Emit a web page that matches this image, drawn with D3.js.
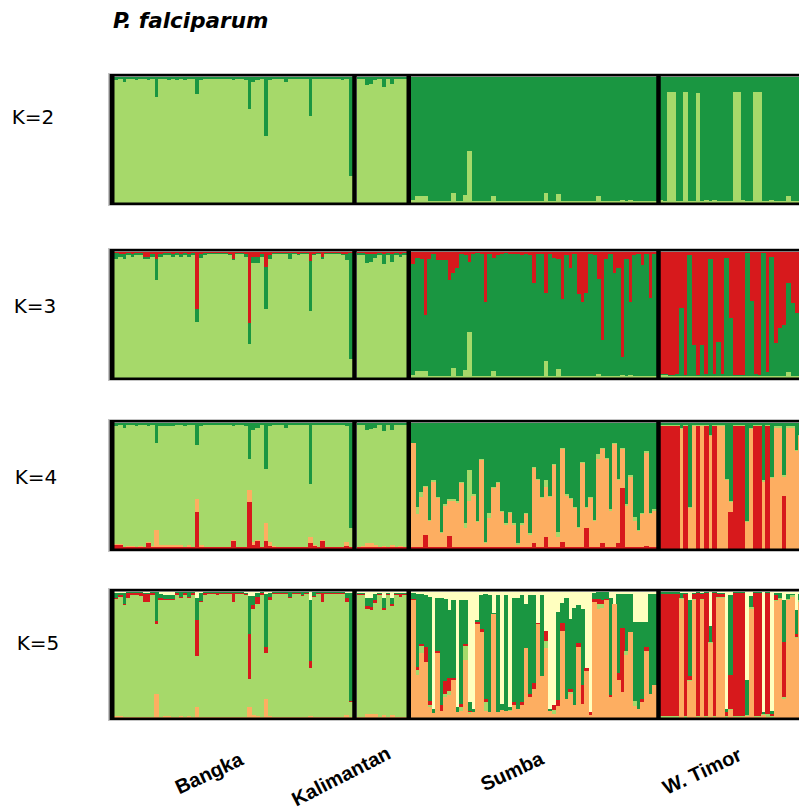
<!DOCTYPE html>
<html>
<head>
<meta charset="utf-8">
<script src="https://cdn.jsdelivr.net/npm/d3@7"></script>
<style>
  body { margin: 0; background: #fff; }
</style>
</head>
<body>
<script>
// populations and K values
const populations = ["Bangka", "Kalimantan", "Sumba", "W. Timor"];
const kValues = [2, 3, 4, 5];

// ---- Bangka (59 isolates) ----
const bangkaK2Dg = [0.03,0.02,0.04,0.02,0.02,0.03,0.02,0.02,0.03,0.02,
  0.16,0.02,0.02,0.03,0.02,0.03,0.02,0.03,0.02,0.02,
  0.14,0.03,0.02,0.02,0.02,0.02,0.02,0.02,0.02,0.03,
  0.02,0.02,0.03,0.255,0.04,0.03,0.02,0.47,0.03,0.02,
  0.02,0.02,0.045,0.02,0.02,0.02,0.02,0.02,0.31,0.02,
  0.02,0.02,0.02,0.02,0.02,0.02,0.03,0.02,0.79];
const bangkaK3Red = [0.01,0.02,0.02,0.01,0.02,0.01,0.01,0.04,0.04,0.02,
  0.06,0.02,0.01,0.01,0.02,0.01,0.02,0.01,0.02,0.01,
  0.46,0.02,0.01,0.01,0.01,0.01,0.01,0.01,0.02,0.06,
  0.01,0.01,0.02,0.566,0.04,0.04,0.02,0.12,0.03,0.01,
  0.01,0.01,0.01,0.01,0.01,0.02,0.01,0.01,0.075,0.02,
  0.01,0.04,0.01,0.01,0.01,0.01,0.02,0.02,0.01];
const bangkaK3Dg = [0.05,0.02,0.04,0.02,0.02,0.02,0.02,0.02,0.02,0.02,
  0.17,0.02,0.02,0.02,0.02,0.02,0.02,0.02,0.02,0.02,
  0.10,0.03,0.02,0.01,0.01,0.01,0.01,0.01,0.01,0.01,
  0.01,0.01,0.02,0.166,0.05,0.05,0.02,0.335,0.03,0.01,
  0.01,0.01,0.01,0.05,0.01,0.01,0.01,0.01,0.40,0.01,
  0.01,0.02,0.01,0.01,0.01,0.01,0.01,0.05,0.84];
const bangkaK4Dg = [0.03,0.02,0.04,0.02,0.02,0.03,0.02,0.02,0.03,0.02,
  0.16,0.03,0.03,0.03,0.03,0.02,0.02,0.03,0.02,0.02,
  0.175,0.03,0.02,0.02,0.02,0.02,0.02,0.02,0.02,0.03,
  0.02,0.02,0.03,0.29,0.06,0.04,0.02,0.37,0.03,0.02,
  0.02,0.02,0.04,0.02,0.02,0.02,0.02,0.02,0.485,0.02,
  0.02,0.02,0.02,0.02,0.02,0.02,0.02,0.03,0.84];
const bangkaK4Or = [0.01,0.01,0.005,0.01,0.005,0.005,0.01,0.005,0.015,0.01,
  0.14,0.01,0.015,0.015,0.015,0.015,0.01,0.005,0.01,0.005,
  0.10,0.01,0.005,0.005,0.005,0.005,0.005,0.005,0.005,0.01,
  0.005,0.005,0.005,0.094,0.02,0.01,0.005,0.145,0.03,0.01,
  0.005,0.005,0.005,0.005,0.005,0.005,0.005,0.005,0.05,0.005,
  0.005,0.01,0.005,0.005,0.005,0.005,0.005,0.03,0.005];
const bangkaK4Red = [0.027,0.027,0.01,0.01,0.015,0.01,0.01,0.01,0.04,0.01,
  0.01,0.015,0.01,0.01,0.01,0.01,0.015,0.01,0.015,0.01,
  0.29,0.015,0.01,0.01,0.01,0.01,0.01,0.01,0.01,0.06,
  0.01,0.01,0.01,0.37,0.03,0.06,0.01,0.056,0.02,0.01,
  0.01,0.01,0.01,0.01,0.01,0.01,0.01,0.01,0.04,0.02,
  0.01,0.06,0.01,0.01,0.01,0.01,0.01,0.02,0.01];
const bangkaK5Pale = [0.01,0.01,0.01,0.005,0.005,0.005,0.005,0.01,0.01,0.005,
  0.005,0.02,0.03,0.03,0.03,0.005,0.005,0.005,0.005,0.005,
  0.05,0.01,0.005,0.005,0.005,0.005,0.005,0.005,0.005,0.005,
  0.005,0.005,0.01,0.035,0.035,0.01,0.005,0.02,0.01,0.005,
  0.005,0.005,0.005,0.005,0.005,0.005,0.005,0.005,0.065,0.005,
  0.005,0.005,0.005,0.005,0.005,0.005,0.005,0.01,0.01];
const bangkaK5Dg = [0.04,0.02,0.09,0.01,0.01,0.01,0.01,0.01,0.01,0.01,
  0.23,0.03,0.03,0.03,0.03,0.01,0.04,0.01,0.04,0.01,
  0.18,0.065,0.01,0.01,0.01,0.01,0.01,0.01,0.01,0.01,
  0.01,0.01,0.01,0.30,0.075,0.03,0.01,0.42,0.03,0.01,
  0.01,0.01,0.01,0.04,0.01,0.01,0.02,0.01,0.49,0.03,
  0.01,0.01,0.01,0.01,0.01,0.01,0.01,0.04,0.86];
const bangkaK5Red = [0.01,0.01,0.01,0.04,0.01,0.01,0.02,0.06,0.06,0.01,
  0.02,0.02,0.01,0.01,0.01,0.01,0.01,0.01,0.01,0.01,
  0.28,0.01,0.01,0.005,0.005,0.01,0.005,0.005,0.005,0.07,
  0.005,0.005,0.01,0.36,0.03,0.06,0.01,0.05,0.03,0.005,
  0.005,0.005,0.005,0.01,0.005,0.005,0.01,0.005,0.055,0.01,
  0.005,0.07,0.005,0.005,0.005,0.005,0.005,0.03,0.005];
const bangkaK5Or = [0.01,0.01,0.005,0.005,0.005,0.005,0.005,0.005,0.005,0.005,
  0.19,0.005,0.01,0.01,0.005,0.005,0.015,0.005,0.015,0.005,
  0.08,0.005,0.005,0.005,0.005,0.005,0.005,0.005,0.005,0.005,
  0.005,0.005,0.005,0.085,0.02,0.01,0.005,0.15,0.01,0.005,
  0.005,0.005,0.005,0.005,0.005,0.005,0.005,0.005,0.015,0.005,
  0.005,0.005,0.005,0.005,0.005,0.005,0.005,0.02,0.005];

// ---- Kalimantan (12) ----
const kaliK2Dg = [0.02,0.02,0.07,0.06,0.03,0.02,0.08,0.02,0.06,0.02,0.02,0.02];
const kaliK3Red = [0.01,0.01,0.02,0.02,0.02,0.01,0.02,0.01,0.02,0.01,0.02,0.01];
const kaliK3Dg = [0.02,0.02,0.07,0.06,0.03,0.02,0.08,0.02,0.06,0.02,0.02,0.02];
const kaliK4Dg = [0.02,0.02,0.06,0.05,0.04,0.02,0.07,0.02,0.06,0.02,0.02,0.02];
const kaliK4Or = [0.005,0.01,0.03,0.03,0.02,0.005,0.01,0.005,0.02,0.005,0.01,0.005];
const kaliK4Red = [0.01,0.01,0.01,0.01,0.01,0.01,0.01,0.01,0.01,0.01,0.01,0.01];
const kaliK5Pale = [0.01,0.01,0.055,0.055,0.02,0.01,0.05,0.01,0.055,0.01,0.01,0.01];
const kaliK5Dg = [0.01,0.01,0.06,0.07,0.05,0.01,0.08,0.01,0.045,0.01,0.01,0.01];
const kaliK5Red = [0.005,0.005,0.02,0.02,0.02,0.005,0.015,0.005,0.015,0.005,0.02,0.005];
const kaliK5Or = [0.005,0.005,0.03,0.03,0.03,0.005,0.02,0.005,0.02,0.005,0.005,0.005];

// ---- Sumba (61) ----
const sumbaK2Lg = [0.02,0.05,0.05,0.05,0.01,0.01,0.015,0.015,0.01,0.01,
  0.075,0.01,0.01,0.06,0.41,0.01,0.01,0.015,0.01,0.01,
  0.05,0.015,0.01,0.01,0.01,0.015,0.01,0.01,0.015,0.015,
  0.01,0.01,0.01,0.075,0.01,0.01,0.07,0.015,0.015,0.01,
  0.015,0.01,0.01,0.01,0.01,0.01,0.05,0.015,0.01,0.015,
  0.01,0.015,0.02,0.015,0.02,0.01,0.01,0.01,0.01,0.01,0.01];
const sumbaK3Red = [0.10,0.05,0.06,0.50,0.06,0.02,0.065,0.07,0.07,0.23,
  0.17,0.13,0.02,0.03,0.08,0.02,0.01,0.02,0.40,0.02,
  0.05,0.03,0.02,0.01,0.02,0.02,0.02,0.03,0.02,0.03,
  0.25,0.02,0.02,0.33,0.02,0.05,0.06,0.38,0.03,0.13,
  0.02,0.34,0.40,0.33,0.02,0.03,0.22,0.70,0.06,0.02,
  0.17,0.13,0.84,0.06,0.40,0.03,0.02,0.11,0.02,0.37,0.02];
const sumbaK3Lg = [0.02,0.05,0.05,0.05,0.01,0.01,0.015,0.015,0.01,0.01,
  0.075,0.01,0.01,0.06,0.36,0.01,0.01,0.015,0.01,0.01,
  0.05,0.015,0.01,0.01,0.01,0.015,0.01,0.01,0.015,0.015,
  0.01,0.01,0.01,0.13,0.01,0.01,0.07,0.015,0.015,0.01,
  0.015,0.01,0.01,0.01,0.01,0.01,0.03,0.015,0.01,0.015,
  0.01,0.015,0.02,0.015,0.02,0.01,0.01,0.01,0.01,0.01,0.01];
const sumbaK4Dg = [0.16,0.67,0.55,0.50,0.77,0.46,0.59,0.87,0.65,0.61,
  0.61,0.62,0.47,0.80,0.38,0.57,0.78,0.29,0.95,0.72,
  0.51,0.47,0.70,0.80,0.71,0.80,0.96,0.80,0.72,0.88,
  0.35,0.45,0.59,0.46,0.58,0.33,0.87,0.20,0.57,0.60,
  0.67,0.83,0.31,0.67,0.59,0.77,0.25,0.20,0.28,0.69,
  0.16,0.45,0.20,0.65,0.42,0.75,0.85,0.72,0.23,0.72,0.69];
const sumbaK4Lg = [0.00,0.06,0.04,0.01,0.01,0.01,0.01,0.01,0.01,0.01,
  0.01,0.02,0.01,0.04,0.24,0.01,0.01,0.01,0.01,0.04,
  0.01,0.01,0.01,0.01,0.01,0.01,0.01,0.01,0.01,0.01,
  0.01,0.01,0.01,0.05,0.01,0.01,0.04,0.01,0.01,0.01,
  0.01,0.01,0.01,0.01,0.01,0.01,0.04,0.01,0.01,0.01,
  0.01,0.01,0.01,0.01,0.01,0.03,0.01,0.01,0.01,0.01,0.01];
const sumbaK4Red = [0.01,0.015,0.015,0.11,0.015,0.015,0.015,0.015,0.015,0.10,
  0.015,0.015,0.015,0.015,0.015,0.015,0.015,0.015,0.015,0.015,
  0.015,0.015,0.015,0.015,0.015,0.015,0.015,0.015,0.015,0.015,
  0.04,0.015,0.015,0.09,0.015,0.015,0.015,0.05,0.015,0.015,
  0.015,0.015,0.015,0.16,0.015,0.015,0.015,0.04,0.015,0.015,
  0.015,0.04,0.48,0.015,0.015,0.015,0.015,0.015,0.02,0.015,0.015];
const sumbaK5Pale = [0.01,0.02,0.02,0.03,0.04,0.93,0.05,0.05,0.06,0.15,
  0.07,0.92,0.07,0.07,0.88,0.93,0.23,0.03,0.02,0.03,
  0.17,0.03,0.89,0.03,0.92,0.05,0.05,0.03,0.10,0.03,
  0.03,0.25,0.03,0.31,0.93,0.90,0.16,0.09,0.05,0.22,
  0.13,0.11,0.14,0.61,0.96,0.01,0.00,0.00,0.00,0.05,
  0.10,0.02,0.02,0.02,0.02,0.24,0.24,0.24,0.24,0.02,0.02];
const sumbaK5Dg = [0.05,0.58,0.40,0.41,0.83,0.035,0.42,0.85,0.65,0.54,
  0.62,0.04,0.82,0.35,0.07,0.03,0.01,0.27,0.83,0.93,
  0.01,0.93,0.05,0.92,0.02,0.83,0.88,0.85,0.35,0.78,
  0.70,0.00,0.64,0.00,0.02,0.00,0.70,0.16,0.80,0.55,
  0.77,0.30,0.60,0.00,0.00,0.05,0.06,0.07,0.06,0.77,
  0.00,0.63,0.27,0.45,0.30,0.63,0.69,0.61,0.20,0.79,0.72];
const sumbaK5Red = [0.01,0.02,0.015,0.12,0.03,0.00,0.02,0.05,0.10,0.10,
  0.01,0.00,0.03,0.01,0.01,0.00,0.02,0.02,0.03,0.00,
  0.00,0.00,0.00,0.00,0.00,0.02,0.00,0.02,0.00,0.03,
  0.04,0.01,0.00,0.08,0.00,0.04,0.05,0.06,0.00,0.03,
  0.00,0.03,0.15,0.02,0.02,0.02,0.04,0.03,0.01,0.02,
  0.00,0.05,0.51,0.00,0.00,0.00,0.00,0.03,0.03,0.00,0.00];
const sumbaK5Lg = [0.00,0.045,0.05,0.00,0.02,0.00,0.00,0.00,0.03,0.03,
  0.00,0.00,0.03,0.11,0.01,0.00,0.00,0.00,0.07,0.00,
  0.00,0.00,0.00,0.00,0.01,0.00,0.00,0.00,0.00,0.00,
  0.00,0.00,0.00,0.06,0.00,0.03,0.00,0.00,0.00,0.01,
  0.00,0.00,0.00,0.00,0.00,0.00,0.04,0.03,0.00,0.00,
  0.00,0.00,0.00,0.03,0.00,0.04,0.00,0.00,0.00,0.00,0.00];

// ---- W. Timor (35 visible) ----
const wtK2Lg = [0.02,0.01,0.875,0.875,0.01,0.01,0.88,0.01,0.01,0.87,
  0.01,0.02,0.01,0.02,0.01,0.01,0.01,0.01,0.875,0.875,
  0.02,0.01,0.01,0.88,0.88,0.01,0.01,0.02,0.01,0.01,
  0.01,0.055,0.01,0.01,0.01];
const wtK3Red = [0.97,0.97,0.98,0.98,0.97,0.45,0.98,0.03,0.745,0.98,
  0.745,0.97,0.06,0.97,0.72,0.97,0.05,0.53,0.98,0.98,
  0.98,0.01,0.39,0.97,0.98,0.01,0.96,0.04,0.73,0.61,
  0.58,0.25,0.41,0.49,0.50];
const wtK3Lg = [0.02,0.02,0.01,0.01,0.01,0.01,0.01,0.01,0.01,0.01,
  0.01,0.01,0.01,0.01,0.01,0.01,0.01,0.01,0.01,0.01,
  0.01,0.01,0.01,0.01,0.01,0.01,0.01,0.01,0.01,0.01,
  0.01,0.04,0.01,0.01,0.01];
const wtK4Dg = [0.02,0.02,0.02,0.02,0.02,0.045,0.02,0.67,0.02,0.02,
  0.02,0.02,0.10,0.02,0.02,0.02,0.45,0.62,0.02,0.02,
  0.02,0.78,0.045,0.02,0.02,0.46,0.02,0.43,0.03,0.03,
  0.42,0.03,0.03,0.22,0.10];
const wtK4Red = [0.97,0.97,0.97,0.97,0.97,0.00,0.97,0.00,0.00,0.97,
  0.00,0.97,0.00,0.97,0.00,0.00,0.00,0.29,0.97,0.97,
  0.97,0.00,0.00,0.97,0.97,0.00,0.97,0.00,0.00,0.00,
  0.42,0.00,0.00,0.00,0.00];
const wtK4Lg = [0.01,0.01,0.01,0.01,0.01,0.01,0.01,0.01,0.01,0.01,
  0.01,0.01,0.01,0.01,0.01,0.01,0.01,0.01,0.01,0.01,
  0.01,0.01,0.01,0.01,0.01,0.01,0.01,0.01,0.01,0.01,
  0.01,0.01,0.01,0.01,0.01];
const wtK5Pale = [0.005,0.005,0.005,0.005,0.005,0.01,0.01,0.07,0.01,0.005,
  0.01,0.005,0.27,0.005,0.01,0.01,0.93,0.03,0.005,0.005,
  0.005,0.70,0.035,0.005,0.005,0.96,0.005,0.95,0.015,0.01,
  0.07,0.02,0.02,0.15,0.02];
const wtK5Dg = [0.015,0.015,0.015,0.015,0.015,0.04,0.01,0.60,0.01,0.01,
  0.01,0.01,0.13,0.01,0.01,0.01,0.03,0.63,0.01,0.01,
  0.01,0.28,0.09,0.01,0.01,0.01,0.01,0.02,0.01,0.04,
  0.33,0.04,0.01,0.19,0.05];
const wtK5Red = [0.97,0.97,0.97,0.97,0.97,0.00,0.97,0.03,0.04,0.97,
  0.04,0.97,0.00,0.97,0.02,0.02,0.03,0.27,0.97,0.97,
  0.97,0.00,0.00,0.97,0.97,0.00,0.96,0.02,0.04,0.00,
  0.44,0.00,0.00,0.02,0.00];
const wtK5Lg = [0.01,0.01,0.01,0.01,0.01,0.01,0.01,0.01,0.01,0.01,
  0.01,0.01,0.01,0.01,0.01,0.01,0.01,0.01,0.01,0.01,
  0.01,0.01,0.01,0.01,0.01,0.01,0.02,0.01,0.01,0.01,
  0.015,0.01,0.01,0.01,0.01];

// which arrays belong to which K / population; the missing cluster is the remainder
const sources = {
  2: [{dg: bangkaK2Dg}, {dg: kaliK2Dg}, {lg: sumbaK2Lg}, {lg: wtK2Lg}],
  3: [{red: bangkaK3Red, dg: bangkaK3Dg}, {red: kaliK3Red, dg: kaliK3Dg},
      {red: sumbaK3Red, lg: sumbaK3Lg}, {red: wtK3Red, lg: wtK3Lg}],
  4: [{dg: bangkaK4Dg, or: bangkaK4Or, red: bangkaK4Red}, {dg: kaliK4Dg, or: kaliK4Or, red: kaliK4Red},
      {dg: sumbaK4Dg, lg: sumbaK4Lg, red: sumbaK4Red}, {dg: wtK4Dg, lg: wtK4Lg, red: wtK4Red}],
  5: [{pale: bangkaK5Pale, dg: bangkaK5Dg, red: bangkaK5Red, or: bangkaK5Or},
      {pale: kaliK5Pale, dg: kaliK5Dg, red: kaliK5Red, or: kaliK5Or},
      {pale: sumbaK5Pale, dg: sumbaK5Dg, red: sumbaK5Red, lg: sumbaK5Lg},
      {pale: wtK5Pale, dg: wtK5Dg, red: wtK5Red, lg: wtK5Lg}]
};

// cluster order from top to bottom of each bar
const stackOrder = {
  2: ["dg", "lg"],
  3: ["red", "dg", "lg"],
  4: ["dg", "lg", "or", "red"],
  5: ["pale", "dg", "red", "lg", "or"]
};

const color = d3.scaleOrdinal()
  .domain(["pale", "lg", "dg", "red", "or"])
  .range(["#ffffbf", "#a6d96a", "#1a9641", "#d7191c", "#fdae61"]);

const width = 799, height = 811;
const rowTops = [74, 249, 420, 589];
const popRanges = [[114, 352.5], [356.5, 406.5], [411, 656.5], [658.7, 658.7 + 35 * 4.1]];
const sepX = [354.5, 408.75, 658.5];

const svg = d3.select("body").append("svg")
  .attr("width", width)
  .attr("height", height);

svg.append("text")
  .attr("x", 113)
  .attr("y", 28)
  .attr("font-family", "DejaVu Sans")
  .attr("font-weight", "bold")
  .attr("font-style", "italic")
  .attr("font-size", 21.5)
  .text("P. falciparum");

const kLabelX = [33, 35, 36, 38];
const kLabelY = [124, 313, 484, 650];

kValues.forEach((k, r) => {
  const top = rowTops[r];
  const y = d3.scaleLinear().domain([0, 1]).range([top + 2.5, top + 128.5]);
  const keys = stackOrder[k];
  const g = svg.append("g").attr("shape-rendering", "crispEdges");

  populations.forEach((pop, p) => {
    const src = sources[k][p];
    const n = Object.values(src)[0].length;
    const rows = d3.range(n).map(i => {
      const row = {};
      let sum = 0;
      keys.forEach(key => {
        if (src[key]) { row[key] = src[key][i]; sum += src[key][i]; }
      });
      keys.forEach(key => {
        if (!src[key]) row[key] = Math.max(0, 1 - sum);
      });
      return row;
    });

    const x = d3.scaleBand()
      .domain(d3.range(n))
      .range(popRanges[p]);

    const series = d3.stack().keys(keys)(rows);

    g.selectAll(null)
      .data(series)
      .enter()
      .append("g")
      .attr("fill", d => color(d.key))
      .selectAll("rect")
      .data(d => d.map((v, i) => ({v, i})))
      .enter()
      .append("rect")
      .attr("x", d => x(d.i))
      .attr("width", x.bandwidth() + 0.6)
      .attr("y", d => y(d.v[0]))
      .attr("height", d => Math.max(0, y(d.v[1]) - y(d.v[0])));
  });

  // frame
  svg.append("rect")
    .attr("x", 108.5).attr("y", top - 0.5)
    .attr("width", 800).attr("height", 132)
    .attr("fill", "none").attr("stroke", "#c4c4c4").attr("stroke-width", 1);
  svg.append("rect")
    .attr("x", 111.25).attr("y", top + 1.25)
    .attr("width", 800).attr("height", 128.5)
    .attr("fill", "none").attr("stroke", "#000").attr("stroke-width", 2.5);
  svg.append("line")
    .attr("x1", 112).attr("x2", 112)
    .attr("y1", top).attr("y2", top + 131)
    .attr("stroke", "#000").attr("stroke-width", 5);
  sepX.forEach(sx => {
    svg.append("line")
      .attr("x1", sx).attr("x2", sx)
      .attr("y1", top).attr("y2", top + 131)
      .attr("stroke", "#000").attr("stroke-width", 4.5);
  });

  svg.append("text")
    .attr("x", kLabelX[r])
    .attr("y", kLabelY[r])
    .attr("text-anchor", "middle")
    .attr("font-family", "DejaVu Sans")
    .attr("font-size", 20)
    .text("K=" + k);
});

// population labels
const popLabelPos = [[209, 773, -25], [341, 776, -27], [512, 771, -25], [702, 771, -25]];
populations.forEach((pop, p) => {
  const [lx, ly, a] = popLabelPos[p];
  svg.append("text")
    .attr("transform", `translate(${lx},${ly}) rotate(${a})`)
    .attr("text-anchor", "middle")
    .attr("dominant-baseline", "central")
    .attr("font-family", "Liberation Sans")
    .attr("font-weight", "bold")
    .attr("font-size", 20)
    .text(pop);
});
</script>
</body>
</html>
